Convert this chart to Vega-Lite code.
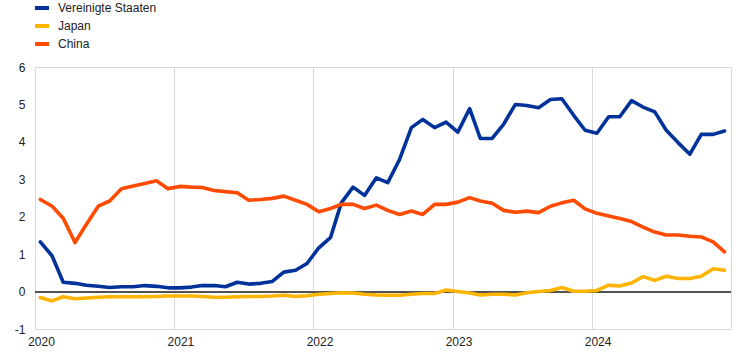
{
  "$schema": "https://vega.github.io/schema/vega-lite/v6.json",
  "width": 696,
  "height": 262,
  "autosize": {"type": "none"},
  "padding": {"left": 35, "top": 67, "right": 13, "bottom": 31},
  "background": "white",
  "config": {
    "view": {"stroke": "#d9d9d9", "strokeWidth": 1},
    "font": "Liberation Sans",
    "axis": {"labelFont": "Liberation Sans", "labelFontSize": 12, "labelColor": "#222222", "gridColor": "#d9d9d9", "gridWidth": 1, "domain": false, "ticks": false, "title": null}
  },
  "data": {
    "values": [
      {"date": "2020-01-15", "Vereinigte Staaten": 1.33, "Japan": -0.16, "China": 2.46},
      {"date": "2020-02-15", "Vereinigte Staaten": 0.95, "Japan": -0.25, "China": 2.28},
      {"date": "2020-03-15", "Vereinigte Staaten": 0.25, "Japan": -0.14, "China": 1.96},
      {"date": "2020-04-15", "Vereinigte Staaten": 0.22, "Japan": -0.19, "China": 1.31},
      {"date": "2020-05-15", "Vereinigte Staaten": 0.17, "Japan": -0.17, "China": 1.80},
      {"date": "2020-06-15", "Vereinigte Staaten": 0.14, "Japan": -0.15, "China": 2.28},
      {"date": "2020-07-15", "Vereinigte Staaten": 0.11, "Japan": -0.14, "China": 2.42},
      {"date": "2020-08-15", "Vereinigte Staaten": 0.13, "Japan": -0.14, "China": 2.75},
      {"date": "2020-09-15", "Vereinigte Staaten": 0.13, "Japan": -0.14, "China": 2.82},
      {"date": "2020-10-15", "Vereinigte Staaten": 0.16, "Japan": -0.14, "China": 2.89},
      {"date": "2020-11-15", "Vereinigte Staaten": 0.14, "Japan": -0.13, "China": 2.96},
      {"date": "2020-12-15", "Vereinigte Staaten": 0.10, "Japan": -0.12, "China": 2.75},
      {"date": "2021-01-15", "Vereinigte Staaten": 0.10, "Japan": -0.12, "China": 2.81},
      {"date": "2021-02-15", "Vereinigte Staaten": 0.12, "Japan": -0.12, "China": 2.79},
      {"date": "2021-03-15", "Vereinigte Staaten": 0.16, "Japan": -0.13, "China": 2.78},
      {"date": "2021-04-15", "Vereinigte Staaten": 0.16, "Japan": -0.15, "China": 2.70},
      {"date": "2021-05-15", "Vereinigte Staaten": 0.13, "Japan": -0.15, "China": 2.67},
      {"date": "2021-06-15", "Vereinigte Staaten": 0.25, "Japan": -0.14, "China": 2.64},
      {"date": "2021-07-15", "Vereinigte Staaten": 0.20, "Japan": -0.13, "China": 2.44},
      {"date": "2021-08-15", "Vereinigte Staaten": 0.22, "Japan": -0.13, "China": 2.46},
      {"date": "2021-09-15", "Vereinigte Staaten": 0.27, "Japan": -0.12, "China": 2.49},
      {"date": "2021-10-15", "Vereinigte Staaten": 0.52, "Japan": -0.10, "China": 2.55},
      {"date": "2021-11-15", "Vereinigte Staaten": 0.57, "Japan": -0.13, "China": 2.44},
      {"date": "2021-12-15", "Vereinigte Staaten": 0.75, "Japan": -0.11, "China": 2.33},
      {"date": "2022-01-15", "Vereinigte Staaten": 1.17, "Japan": -0.07, "China": 2.13},
      {"date": "2022-02-15", "Vereinigte Staaten": 1.45, "Japan": -0.05, "China": 2.22},
      {"date": "2022-03-15", "Vereinigte Staaten": 2.37, "Japan": -0.03, "China": 2.33},
      {"date": "2022-04-15", "Vereinigte Staaten": 2.79, "Japan": -0.04, "China": 2.33},
      {"date": "2022-05-15", "Vereinigte Staaten": 2.57, "Japan": -0.07, "China": 2.22},
      {"date": "2022-06-15", "Vereinigte Staaten": 3.04, "Japan": -0.09, "China": 2.31},
      {"date": "2022-07-15", "Vereinigte Staaten": 2.91, "Japan": -0.10, "China": 2.17},
      {"date": "2022-08-15", "Vereinigte Staaten": 3.53, "Japan": -0.10, "China": 2.06},
      {"date": "2022-09-15", "Vereinigte Staaten": 4.38, "Japan": -0.07, "China": 2.15},
      {"date": "2022-10-15", "Vereinigte Staaten": 4.60, "Japan": -0.05, "China": 2.06},
      {"date": "2022-11-15", "Vereinigte Staaten": 4.38, "Japan": -0.05, "China": 2.33},
      {"date": "2022-12-15", "Vereinigte Staaten": 4.53, "Japan": 0.04, "China": 2.33},
      {"date": "2023-01-15", "Vereinigte Staaten": 4.26, "Japan": 0.00, "China": 2.39},
      {"date": "2023-02-15", "Vereinigte Staaten": 4.89, "Japan": -0.04, "China": 2.51},
      {"date": "2023-03-15", "Vereinigte Staaten": 4.09, "Japan": -0.09, "China": 2.42},
      {"date": "2023-04-15", "Vereinigte Staaten": 4.09, "Japan": -0.07, "China": 2.36},
      {"date": "2023-05-15", "Vereinigte Staaten": 4.47, "Japan": -0.07, "China": 2.17},
      {"date": "2023-06-15", "Vereinigte Staaten": 5.00, "Japan": -0.09, "China": 2.12},
      {"date": "2023-07-15", "Vereinigte Staaten": 4.97, "Japan": -0.03, "China": 2.15},
      {"date": "2023-08-15", "Vereinigte Staaten": 4.91, "Japan": 0.00, "China": 2.11},
      {"date": "2023-09-15", "Vereinigte Staaten": 5.13, "Japan": 0.03, "China": 2.28},
      {"date": "2023-10-15", "Vereinigte Staaten": 5.15, "Japan": 0.11, "China": 2.37},
      {"date": "2023-11-15", "Vereinigte Staaten": 4.71, "Japan": 0.01, "China": 2.44},
      {"date": "2023-12-15", "Vereinigte Staaten": 4.31, "Japan": 0.01, "China": 2.21},
      {"date": "2024-01-15", "Vereinigte Staaten": 4.23, "Japan": 0.03, "China": 2.09},
      {"date": "2024-02-15", "Vereinigte Staaten": 4.67, "Japan": 0.17, "China": 2.02},
      {"date": "2024-03-15", "Vereinigte Staaten": 4.67, "Japan": 0.15, "China": 1.95},
      {"date": "2024-04-15", "Vereinigte Staaten": 5.10, "Japan": 0.23, "China": 1.87},
      {"date": "2024-05-15", "Vereinigte Staaten": 4.93, "Japan": 0.40, "China": 1.72},
      {"date": "2024-06-15", "Vereinigte Staaten": 4.80, "Japan": 0.30, "China": 1.59},
      {"date": "2024-07-15", "Vereinigte Staaten": 4.31, "Japan": 0.41, "China": 1.51},
      {"date": "2024-08-15", "Vereinigte Staaten": 3.98, "Japan": 0.35, "China": 1.51},
      {"date": "2024-09-15", "Vereinigte Staaten": 3.67, "Japan": 0.35, "China": 1.48},
      {"date": "2024-10-15", "Vereinigte Staaten": 4.20, "Japan": 0.41, "China": 1.46},
      {"date": "2024-11-15", "Vereinigte Staaten": 4.20, "Japan": 0.61, "China": 1.33},
      {"date": "2024-12-15", "Vereinigte Staaten": 4.29, "Japan": 0.57, "China": 1.06}
    ]
  },
  "layer": [
    {
      "mark": {"type": "rule", "color": "#555555", "strokeWidth": 1},
      "encoding": {"y": {"datum": 0, "type": "quantitative", "scale": {"domain": [-1, 6], "nice": false},
        "axis": {"values": [-1, 0, 1, 2, 3, 4, 5, 6], "labelExpr": "'' + datum.value", "labelOverlap": false, "labelFlush": false, "labelPadding": 10}}}
    },
    {
      "transform": [{"fold": ["Vereinigte Staaten", "Japan", "China"], "as": ["series", "value"]}],
      "mark": {"type": "line", "strokeWidth": 3.6, "strokeJoin": "round", "strokeCap": "round"},
      "encoding": {
        "x": {
          "field": "date",
          "type": "temporal",
          "scale": {"type": "utc", "domain": [{"year": 2020, "month": 1, "date": 1, "utc": true}, {"year": 2025, "month": 1, "date": 1, "utc": true}]},
          "axis": {
            "values": [
              {"year": 2020, "month": 1, "date": 1, "utc": true},
              {"year": 2021, "month": 1, "date": 1, "utc": true},
              {"year": 2022, "month": 1, "date": 1, "utc": true},
              {"year": 2023, "month": 1, "date": 1, "utc": true},
              {"year": 2024, "month": 1, "date": 1, "utc": true}
            ],
            "format": "%Y",
            "formatType": "utc",
            "labelAlign": "center",
            "labelOffset": 6,
            "labelPadding": 7,
            "labelFlush": false,
            "labelOverlap": false
          }
        },
        "y": {
          "field": "value",
          "type": "quantitative",
          "scale": {"domain": [-1, 6], "nice": false},
          "axis": {"values": [-1, 0, 1, 2, 3, 4, 5, 6], "labelExpr": "'' + datum.value", "labelOverlap": false, "labelFlush": false, "labelPadding": 10}
        },
        "color": {
          "field": "series",
          "type": "nominal",
          "scale": {"domain": ["Vereinigte Staaten", "Japan", "China"], "range": ["#003299", "#FFB400", "#FF4B00"]},
          "legend": {
            "title": null,
            "orient": "none",
            "legendX": -2,
            "legendY": -68,
            "direction": "vertical",
            "symbolType": "stroke",
            "symbolSize": 196,
            "symbolStrokeWidth": 4,
            "labelFont": "Liberation Sans",
            "labelFontSize": 12,
            "labelColor": "#222222",
            "labelOffset": 7,
            "rowPadding": 1,
            "padding": 0
          }
        }
      }
    }
  ]
}
